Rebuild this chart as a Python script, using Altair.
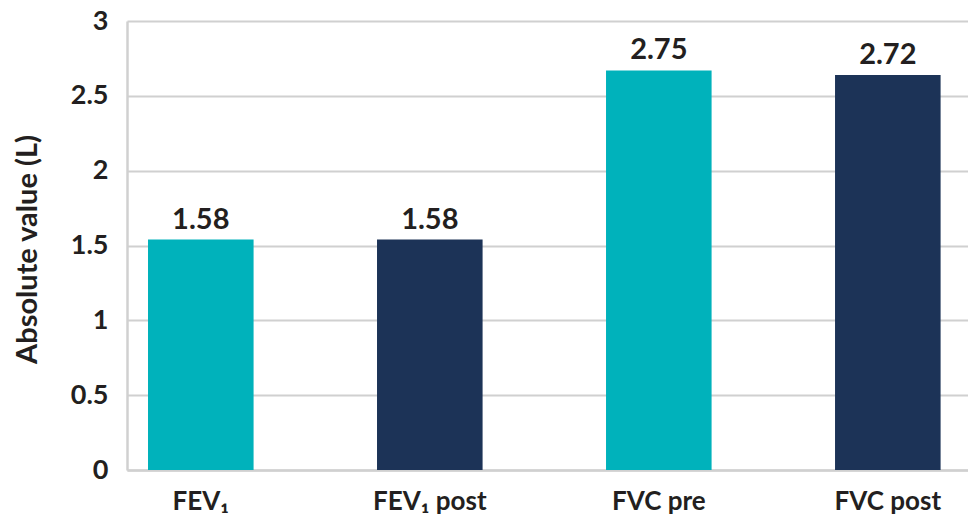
import altair as alt
import pandas as pd

categories = ["FEV₁", "FEV₁ post", "FVC pre", "FVC post"]
bar_values = [1.54, 1.54, 2.67, 2.64]
value_labels = ["1.58", "1.58", "2.75", "2.72"]
bar_colors = ["#00B2BB", "#1C3357", "#00B2BB", "#1C3357"]
y_ticks = [0, 0.5, 1, 1.5, 2, 2.5, 3]

df = pd.DataFrame({"cat": categories, "value": bar_values,
                   "label": value_labels, "color": bar_colors})

FONT = "Lato"
TXT = "#231F20"
GRID = "#D0D0D0"

x = alt.X("cat:N", sort=categories,
          scale=alt.Scale(paddingInner=0.539, paddingOuter=0.1057, align=0.434),
          axis=alt.Axis(title=None, labelAngle=0, labelFont=FONT, labelFontSize=26,
                        labelFontWeight="bold", labelColor=TXT, labelPadding=18,
                        ticks=False, tickSize=0, domainColor=GRID, domainWidth=2.5,
                        grid=False))
y = alt.Y("value:Q", scale=alt.Scale(domain=[0, 3], nice=False, zero=True),
          axis=alt.Axis(values=y_ticks, format="~g", title="Absolute value (L)",
                        labelFont=FONT, labelFontSize=27, labelFontWeight="bold",
                        labelColor=TXT, labelPadding=19, ticks=False, tickSize=0,
                        domainColor=GRID, domainWidth=2.5, gridColor=GRID, gridWidth=2,
                        titleFont=FONT, titleFontSize=29, titleFontWeight="bold",
                        titleColor=TXT, titleAngle=-90, titleX=-91, titleY=228,
                        titleAlign="center", titleBaseline="alphabetic"))

bars = alt.Chart(df).mark_bar().encode(
    x=x, y=y, color=alt.Color("color:N", scale=None))

text = alt.Chart(df).mark_text(baseline="alphabetic", dy=-11, font=FONT,
                               fontSize=29, fontWeight="bold", color=TXT).encode(
    x=alt.X("cat:N", sort=categories), y="value:Q", text="label:N")

chart = alt.layer(bars, text).properties(
    width=841, height=449,
    padding={"left": 119, "top": 13, "right": 0, "bottom": 45},
    autosize="none",
).configure_view(stroke=None)

chart.save("out.html", embed_options={"renderer": "svg", "actions": False})
